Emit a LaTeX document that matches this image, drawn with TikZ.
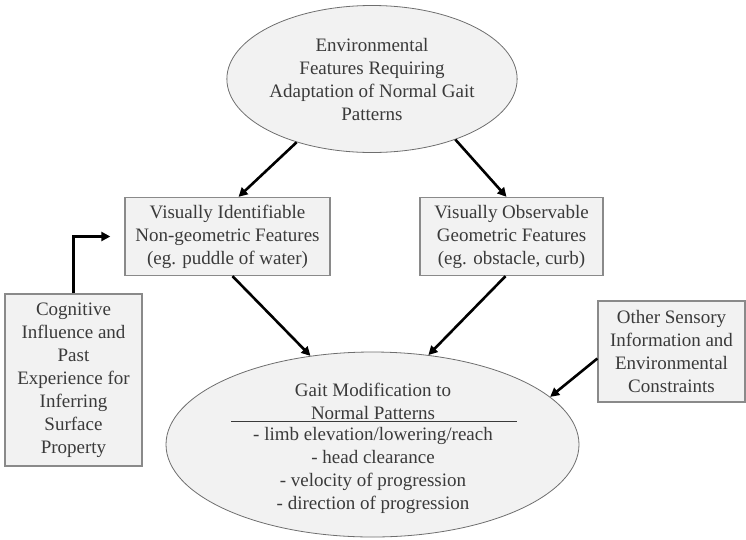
\documentclass[tikz,border=0pt]{standalone}
\usepackage{fontspec}
\setmainfont{Liberation Serif}
\usepackage{tikz}
\usetikzlibrary{arrows.meta,positioning,shapes.geometric}
\definecolor{ink}{HTML}{3A3A3A}
\definecolor{soft}{HTML}{F2F2F2}
\definecolor{edge}{HTML}{8A8A8A}
\definecolor{eedge}{HTML}{6E6E6E}
\tikzset{
  >={Triangle[length=9pt,width=9pt]},
  txt/.style={font=\fontsize{19pt}{23pt}\selectfont,text=ink,align=center,inner sep=0pt},
  box/.style={txt,draw=edge,line width=1.3pt,fill=soft},
  ebox/.style={txt,ellipse,draw=eedge,line width=0.8pt,fill=soft},
  arr/.style={->,draw=black,line width=2.6pt},
}

\begin{document}
\begin{tikzpicture}[x=1pt,y=-1pt]
\useasboundingbox (0,0) rectangle (746,539);
\node[ebox,minimum width=273pt,minimum height=147pt] (env) at (372,79) {Environmental\\Features Requiring\\Adaptation of Normal Gait\\Patterns};
\node[box,minimum width=205pt,minimum height=78pt] (nongeo) at (227.5,236.5) {Visually Identifiable\\Non-geometric Features\\(eg. puddle of water)};
\node[box,minimum width=183pt,minimum height=78pt] (geo) at (511.5,236.5) {Visually Observable\\Geometric Features\\(eg. obstacle, curb)};
\node[box,minimum width=137pt,minimum height=172pt] (cog) at (73.5,380) {Cognitive\\Influence and\\Past\\Experience for\\Inferring\\Surface\\Property};
\node[box,minimum width=147pt,minimum height=101pt] (other) at (671.5,351.5) {Other Sensory\\Information and\\Environmental\\Constraints};
% gait modification ellipse
\node[ebox,minimum width=413pt,minimum height=185pt] (gait) at (372.5,444.5) {};
\node[txt] (gtitle) at (373,401) {Gait Modification to\\Normal Patterns};
\node[txt] (glist) at (373,470) {- limb elevation/lowering/reach\\- head clearance\\- velocity of progression\\- direction of progression};
\coordinate (ruleL) at (231,421);
\coordinate (ruleR) at (517,421);
\draw[draw=ink,line width=1pt] (ruleL) -- (ruleR);
\draw[arr] (env.220) -- ([xshift=11pt]nongeo.north);
\draw[arr] (env.324) -- ([xshift=-5pt]geo.north);
\draw[arr] ([xshift=5pt]nongeo.south) -- (gait.125);
\draw[arr] ([xshift=-6pt]geo.south) -- (gait.58);
\draw[arr] ([yshift=-7pt]other.west) -- (gait.15);
\draw[arr,shorten >=14pt] (cog.north) |- (nongeo.west);
\end{tikzpicture}
\end{document}
